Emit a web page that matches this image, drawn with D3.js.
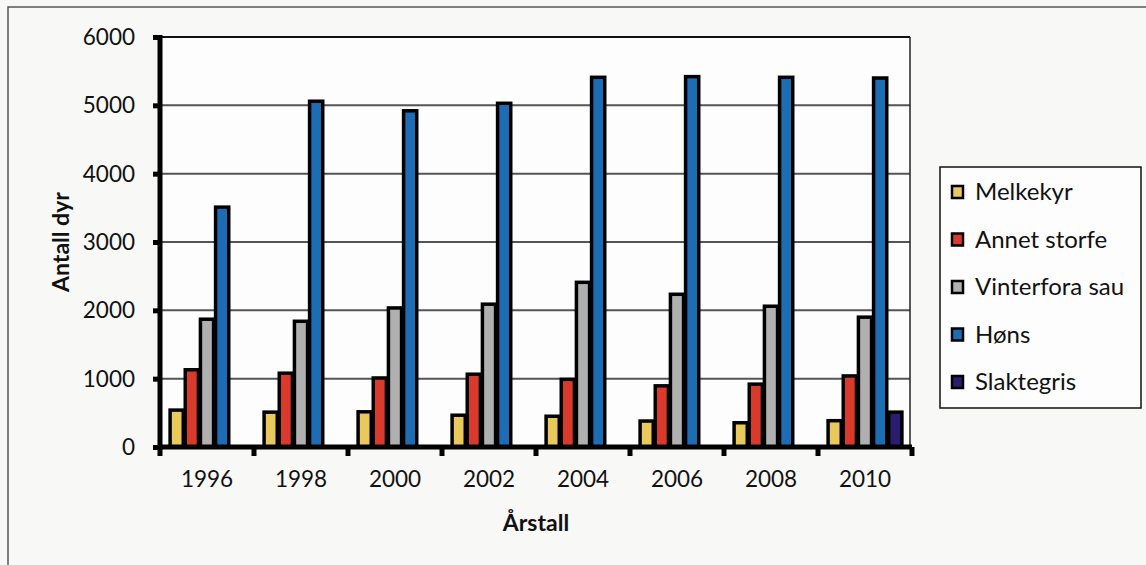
<!DOCTYPE html>
<html><head><meta charset="utf-8">
<script src="https://cdn.jsdelivr.net/npm/d3@7"></script>
<style>
html,body{margin:0;padding:0;background:#f8f8f7;}
svg{display:block;}
text{font-family:Lato,"Open Sans",sans-serif;fill:#111;}
</style></head><body>
<script>
const years = ["1996","1998","2000","2002","2004","2006","2008","2010"];
const seriesNames = ["Melkekyr","Annet storfe","Vinterfora sau","Høns","Slaktegris"];
const melkekyr     = [540, 510, 515, 465, 450, 380, 355, 385];
const annetStorfe  = [1130, 1080, 1010, 1065, 990, 895, 920, 1040];
const vinterforaSau= [1870, 1840, 2035, 2090, 2410, 2235, 2060, 1900];
const hons         = [3510, 5060, 4920, 5030, 5410, 5420, 5410, 5400];
const slaktegris   = [0, 0, 0, 0, 0, 0, 0, 510];
const yTicks = [0,1000,2000,3000,4000,5000,6000];
const colors = ["#e9c85c","#d93a2c","#b0b0b0","#1d6db4","#2b1c6e"];
const allSeries = [melkekyr, annetStorfe, vinterforaSau, hons, slaktegris];

const W=1146,H=565;
const svg=d3.select("body").append("svg").attr("width",W).attr("height",H);
// outer frame
svg.append("rect").attr("x",8).attr("y",7).attr("width",W+20).attr("height",H+20)
  .attr("fill","#f8f8f7").attr("stroke","#555").attr("stroke-width",1.5);

const L=160,R=912,T=37,B=447;
const x=d3.scaleBand().domain(years).range([L,R]).paddingInner(0).paddingOuter(0);
const xs=d3.scaleBand().domain(d3.range(5)).range([0,x.bandwidth()]).paddingInner(0).paddingOuter(0.6);
const y=d3.scaleLinear().domain([0,6000]).range([B,T]);

// plot area background
svg.append("rect").attr("x",L).attr("y",T).attr("width",R-2-L).attr("height",B-T).attr("fill","#fdfdfd");
// gridlines
svg.append("g").selectAll("line").data(yTicks.filter(d=>d>0)).join("line")
  .attr("x1",L).attr("x2",R-2).attr("y1",d=>y(d)).attr("y2",d=>y(d))
  .attr("stroke",d=>d===6000?"#111":"#555").attr("stroke-width",2);
// right border
svg.append("line").attr("x1",R-2).attr("x2",R-2).attr("y1",T).attr("y2",B)
  .attr("stroke","#222").attr("stroke-width",1.5);

// bars
const gs=svg.append("g").selectAll("g").data(years).join("g")
  .attr("transform",d=>`translate(${x(d)},0)`);
gs.selectAll("rect").data((d,i)=>allSeries.map((s,k)=>({k,v:s[i]})).filter(o=>o.v>0)).join("rect")
  .attr("x",o=>xs(o.k)+1).attr("width",xs.bandwidth()-2)
  .attr("y",o=>y(o.v)).attr("height",o=>B-y(o.v))
  .attr("fill",o=>colors[o.k]).attr("stroke","#000").attr("stroke-width",3.5);

// y axis
const yAxis=d3.axisLeft(y).tickValues(yTicks).tickSize(7).tickPadding(18).tickFormat(d3.format("d"));
const ya=svg.append("g").attr("transform",`translate(${L},0)`).call(yAxis);
ya.select(".domain").attr("stroke","#000").attr("stroke-width",5).attr("d",`M0,${T-2}V${B+3}`);
ya.selectAll(".tick line").attr("stroke","#000").attr("stroke-width",5);
ya.selectAll(".tick text").attr("font-size",22.5).attr("font-family","Lato, sans-serif").attr("fill","#111").attr("dy","0.34em");

// x axis
const xa=svg.append("g").attr("transform",`translate(0,${B})`)
  .call(d3.axisBottom(x).tickSize(0).tickPadding(24));
xa.select(".domain").attr("stroke","#000").attr("stroke-width",5).attr("d",`M${L},0H${R}`);
xa.selectAll(".tick text").attr("font-size",22.5).attr("font-family","Lato, sans-serif").attr("fill","#111");
// category boundary tick marks
svg.append("g").selectAll("line").data(years.concat(["end"])).join("line")
  .attr("x1",(d,i)=>L+i*x.step()).attr("x2",(d,i)=>L+i*x.step())
  .attr("y1",B).attr("y2",B+9).attr("stroke","#000").attr("stroke-width",5);

// axis titles
svg.append("text").attr("transform",`translate(69,${(T+B)/2}) rotate(-90)`)
  .attr("text-anchor","middle").attr("font-weight","bold").attr("font-size",23).text("Antall dyr");
svg.append("text").attr("x",536).attr("y",531).attr("text-anchor","middle")
  .attr("font-weight","bold").attr("font-size",23).text("Årstall");

// legend
const lg=svg.append("g");
lg.append("rect").attr("x",940).attr("y",167).attr("width",201).attr("height",241)
  .attr("fill","#fdfdfd").attr("stroke","#111").attr("stroke-width",1.5);
const li=lg.selectAll("g").data(seriesNames).join("g")
  .attr("transform",(d,i)=>`translate(951,${192+i*47.5})`);
li.append("rect").attr("x",1).attr("y",-6).attr("width",11).attr("height",12)
  .attr("fill",(d,i)=>colors[i]).attr("stroke","#000").attr("stroke-width",2.5);
li.append("text").attr("x",24).attr("y",0).attr("dy","0.35em").attr("font-size",24).text(d=>d);
</script>
</body></html>
